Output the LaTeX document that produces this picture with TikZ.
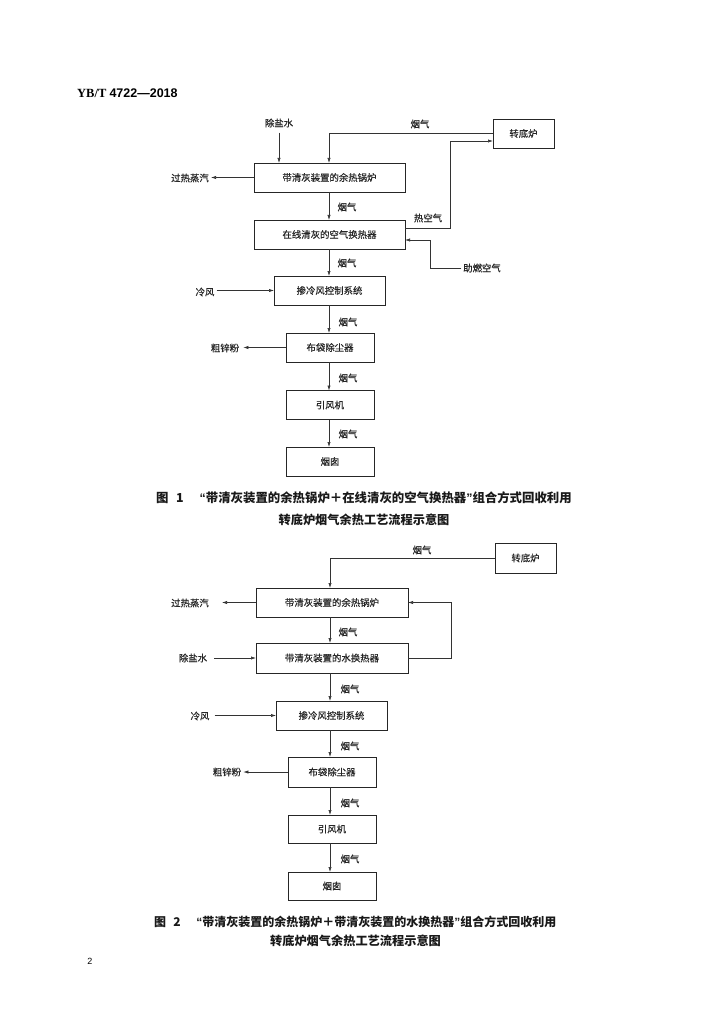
\documentclass[tikz,border=0pt]{standalone}
\usepackage{fontspec}
\setmainfont{Liberation Serif}
\newfontfamily\cjk[FakeBold=0.35]{Noto Sans CJK SC}
\newfontfamily\cjkcap{Noto Sans CJK SC}
\newfontfamily\hsans{Liberation Sans}
\usetikzlibrary{arrows.meta,calc}
\begin{document}
\begin{tikzpicture}[x=1pt,y=-1pt,
  box/.style={draw=black!85, line width=0.9pt, inner sep=0pt, outer sep=0pt,
    font=\cjk\fontsize{9.4}{10}\selectfont, text=black!85, minimum height=29pt},
  lbl/.style={inner sep=2pt, font=\cjk\fontsize{9.4}{10}\selectfont, text=black!85},
  conn/.style={draw=black!80, line width=0.6pt},
  arr/.style={conn, -{Latex[length=5pt,width=3.2pt]}},
  captxt/.style={inner sep=0pt, font=\cjkcap\bfseries\fontsize{12.2}{14}\selectfont, text=black!90}
]
\useasboundingbox[fill=white] (0,0) rectangle (724,1024);

% header
\node[anchor=base west, inner sep=0pt, font=\bfseries\fontsize{12.5}{14}\selectfont] (hdr) at (77,98) {YB/T {\hsans 4722—2018}};

% ---------------- Figure 1 ----------------
\node[box, minimum width=61pt] (zd1) at (523.5,133.5) {转底炉};
\node[box, minimum width=151pt] (b1) at (329.5,177.5) {带清灰装置的余热锅炉};
\node[box, minimum width=151pt] (b2) at (329.5,234.5) {在线清灰的空气换热器};
\node[box, minimum width=111pt] (b3) at (329.5,290.5) {掺冷风控制系统};
\node[box, minimum width=88pt] (b4) at (330,347.5) {布袋除尘器};
\node[box, minimum width=88pt] (b5) at (330,405) {引风机};
\node[box, minimum width=88pt] (b6) at (330,461.5) {烟囱};

\node[lbl] (dsw1) at (279,123) {除盐水};
\node[lbl] (yq1a) at (420,124) {烟气};
\node[lbl] (gr1) at (190,178) {过热蒸汽};
\node[lbl] (yq1b) at (347,207) {烟气};
\node[lbl] (rkq1) at (428,218) {热空气};
\node[lbl] (zr1) at (482,268) {助燃空气};
\node[lbl] (yq1c) at (347,263) {烟气};
\node[lbl] (lf1) at (205,292) {冷风};
\node[lbl] (yq1d) at (348,322) {烟气};
\node[lbl] (cz1) at (225,348) {粗锌粉};
\node[lbl] (yq1e) at (348,378) {烟气};
\node[lbl] (yq1f) at (348,434) {烟气};

\coordinate (ax1) at (329,0);
\coordinate (hx1) at (450,0);
\coordinate (hy1) at (0,228);
\coordinate (hz1) at (0,141);
\coordinate (zx1) at (430,0);
\coordinate (zy1) at (0,240);

\draw[arr, shorten <=3pt] (dsw1.south) -- (dsw1.south |- b1.north);
\draw[arr] (zd1.west) -| (b1.north -| ax1);
\draw[arr] (b1.west) -- (b1.west -| gr1.east);
\draw[arr] (b1.south -| ax1) -- (b2.north -| ax1);
\draw[arr] (b2.east |- hy1) -| (hx1 |- hz1) -- (zd1.west |- hz1);
\draw[arr] (zr1.west) -| (zx1 |- zy1) -- (b2.east |- zy1);
\draw[arr] (b2.south -| ax1) -- (b3.north -| ax1);
\draw[arr] (b3.west -| lf1.east) -- (b3.west);
\draw[arr] (b3.south -| ax1) -- (b4.north -| ax1);
\draw[arr, shorten >=2pt] (b4.west) -- (b4.west -| cz1.east);
\draw[arr] (b4.south -| ax1) -- (b5.north -| ax1);
\draw[arr] (b5.south -| ax1) -- (b6.north -| ax1);

\node[captxt, anchor=west, font=\cjkcap\bfseries\fontsize{12.4}{14}\selectfont] (cap1a) at (156,498) {图\hspace{0.6em}1\hspace{1.3em}{\hsans\bfseries “}带清灰装置的余热锅炉＋在线清灰的空气换热器{\hsans\bfseries ”}组合方式回收利用};
\node[captxt] (cap1b) at (364,520) {转底炉烟气余热工艺流程示意图};

% ---------------- Figure 2 ----------------
\node[box, minimum width=61pt, minimum height=30pt] (zd2) at (525.5,558) {转底炉};
\node[box, minimum width=152pt] (c1) at (332,602.5) {带清灰装置的余热锅炉};
\node[box, minimum width=152pt, minimum height=30pt] (c2) at (332,658) {带清灰装置的水换热器};
\node[box, minimum width=111pt] (c3) at (331.5,715.5) {掺冷风控制系统};
\node[box, minimum width=88pt, minimum height=30pt] (c4) at (332,772) {布袋除尘器};
\node[box, minimum width=88pt, minimum height=28pt] (c5) at (332,829) {引风机};
\node[box, minimum width=88pt, minimum height=28pt] (c6) at (332,886) {烟囱};

\node[lbl] (yq2a) at (422,550) {烟气};
\node[lbl] (gr2) at (190,603) {过热蒸汽};
\node[lbl] (yq2b) at (348,632) {烟气};
\node[lbl] (dsw2) at (193,658) {除盐水};
\node[lbl] (yq2c) at (350,689) {烟气};
\node[lbl] (lf2) at (200,716) {冷风};
\node[lbl] (yq2d) at (350,746) {烟气};
\node[lbl] (cz2) at (227,772) {粗锌粉};
\node[lbl] (yq2e) at (350,803) {烟气};
\node[lbl] (yq2f) at (350,859) {烟气};

\coordinate (ax2) at (330,0);
\coordinate (rx2) at (451,0);

\draw[arr] (zd2.west) -| (c1.north -| ax2);
\draw[arr, shorten >=11pt] (c1.west) -- (c1.west -| gr2.east);
\draw[arr] (c1.south -| ax2) -- (c2.north -| ax2);
\draw[arr] (c2.east) -- (c2.east -| rx2) |- (c1.east);
\draw[arr, shorten <=5pt] (c2.west -| dsw2.east) -- (c2.west);
\draw[arr] (c2.south -| ax2) -- (c3.north -| ax2);
\draw[arr, shorten <=3pt] (c3.west -| lf2.east) -- (c3.west);
\draw[arr] (c3.south -| ax2) -- (c4.north -| ax2);
\draw[arr] (c4.west) -- (c4.west -| cz2.east);
\draw[arr] (c4.south -| ax2) -- (c5.north -| ax2);
\draw[arr] (c5.south -| ax2) -- (c6.north -| ax2);

\node[captxt, anchor=west, font=\cjkcap\bfseries\fontsize{12}{14}\selectfont] (cap2a) at (154,922) {图\hspace{0.6em}2\hspace{1.3em}{\hsans\bfseries “}带清灰装置的余热锅炉＋带清灰装置的水换热器{\hsans\bfseries ”}组合方式回收利用};
\node[captxt] (cap2b) at (355.5,941) {转底炉烟气余热工艺流程示意图};

\node[inner sep=0pt, font=\hsans\fontsize{9}{10}\selectfont] (pg) at (90,961) {2};
\end{tikzpicture}
\end{document}
